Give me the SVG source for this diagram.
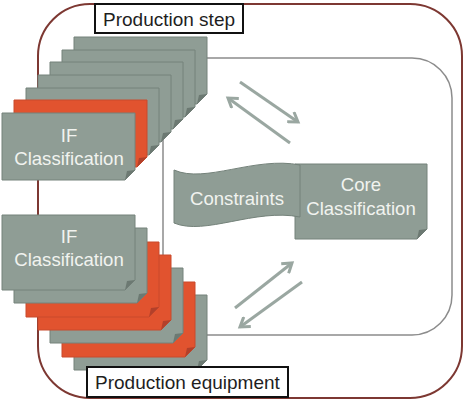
<svg xmlns="http://www.w3.org/2000/svg" width="465" height="406" viewBox="0 0 465 406">
<defs>
<style>
.g{fill:#8f9d95;stroke:#74827a;stroke-width:1}
.r{fill:#e1532f;stroke:#c94a2c;stroke-width:1}
.gf{fill:#6c7972}
.rf{fill:#b2402a}
.t{font-family:"Liberation Sans",Arial,sans-serif;font-size:18.6px;fill:#f1f3ef;text-anchor:middle}
.lbl{font-family:"Liberation Sans",Arial,sans-serif;font-size:19px;fill:#1e1e1e}
.lb{fill:#ffffff;stroke:#111111;stroke-width:2}
.ar{fill:none;stroke:#9aa7a1;stroke-width:3}
</style>
<marker id="ah" viewBox="0 0 14 14" refX="11" refY="7" markerWidth="14" markerHeight="14" markerUnits="userSpaceOnUse" orient="auto">
<path d="M2,1 L11,7 L2,13" fill="none" stroke="#9aa7a1" stroke-width="3"/>
</marker>
</defs>
<rect width="465" height="406" fill="#ffffff"/>
<g id="production-step-frame">
<rect x="38" y="4" width="424" height="394" rx="52" fill="none" stroke="#7d3832" stroke-width="2"/>
</g>
<g id="core-frame">
<rect x="163" y="58" width="289" height="277" rx="40" fill="none" stroke="#8c8c8c" stroke-width="1.5"/>
</g>
<g id="connectors">
<line class="ar" x1="240" y1="82" x2="298" y2="122" marker-end="url(#ah)"/>
<line class="ar" x1="290" y1="143" x2="228" y2="98" marker-end="url(#ah)"/>
<line class="ar" x1="235" y1="308" x2="292" y2="263" marker-end="url(#ah)"/>
<line class="ar" x1="302" y1="282" x2="240" y2="327" marker-end="url(#ah)"/>
</g>
<g id="if-stack-top">
<path class="g" d="M74,37 h133 v57 l-10,10 H74 Z"/><path class="gf" d="M207,94 L197,104 L199,95 Z"/>
<path class="g" d="M62,50 h133 v57 l-10,10 H62 Z"/><path class="gf" d="M195,107 L185,117 L187,108 Z"/>
<path class="g" d="M50,62 h133 v57 l-10,10 H50 Z"/><path class="gf" d="M183,119 L173,129 L175,120 Z"/>
<path class="g" d="M38,75 h133 v57 l-10,10 H38 Z"/><path class="gf" d="M171,132 L161,142 L163,133 Z"/>
<path class="g" d="M26,88 h133 v57 l-10,10 H26 Z"/><path class="gf" d="M159,145 L149,155 L151,146 Z"/>
<path class="r" d="M14,100 h133 v57 l-10,10 H14 Z"/><path class="rf" d="M147,157 L137,167 L139,158 Z"/>
<path class="g" d="M2,113 h133 v57 l-10,10 H2 Z"/><path class="gf" d="M135,170 L125,180 L127,171 Z"/>
<text class="t" x="69" y="142">IF</text>
<text class="t" x="69" y="165">Classification</text>
</g>
<g id="if-stack-bottom">
<path class="g" d="M74,295 h133 v65 l-10,10 H74 Z"/><path class="gf" d="M207,360 L197,370 L199,361 Z"/>
<path class="r" d="M62,282 h133 v65 l-10,10 H62 Z"/><path class="rf" d="M195,347 L185,357 L187,348 Z"/>
<path class="g" d="M50,268 h133 v65 l-10,10 H50 Z"/><path class="gf" d="M183,333 L173,343 L175,334 Z"/>
<path class="r" d="M38,255 h133 v65 l-10,10 H38 Z"/><path class="rf" d="M171,320 L161,330 L163,321 Z"/>
<path class="r" d="M26,242 h133 v65 l-10,10 H26 Z"/><path class="rf" d="M159,307 L149,317 L151,308 Z"/>
<path class="g" d="M14,228 h133 v65 l-10,10 H14 Z"/><path class="gf" d="M147,293 L137,303 L139,294 Z"/>
<path class="g" d="M2,215 h133 v65 l-10,10 H2 Z"/><path class="gf" d="M135,280 L125,290 L127,281 Z"/>
<text class="t" x="69" y="243">IF</text>
<text class="t" x="69" y="266">Classification</text>
</g>
<g id="core-classification">
<path class="g" d="M295,164 h132 v65 l-10,10 H295 Z"/><path class="gf" d="M427,229 L417,239 L419,230 Z"/>
<text class="t" x="361" y="191">Core</text>
<text class="t" x="361" y="215">Classification</text>
</g>
<g id="constraints">
<path class="g" d="M174,170 C205,184 255,156 300,165 L300,217 C255,208 205,236 174,223 Z"/>
<text class="t" x="237" y="205">Constraints</text>
</g>
<g id="label-production-step">
<rect class="lb" x="95" y="4" width="148" height="29"/>
<text class="lbl" x="103" y="26">Production step</text>
</g>
<g id="label-production-equipment">
<rect class="lb" x="87" y="367" width="201" height="30"/>
<text class="lbl" x="95" y="389">Production equipment</text>
</g>
</svg>
